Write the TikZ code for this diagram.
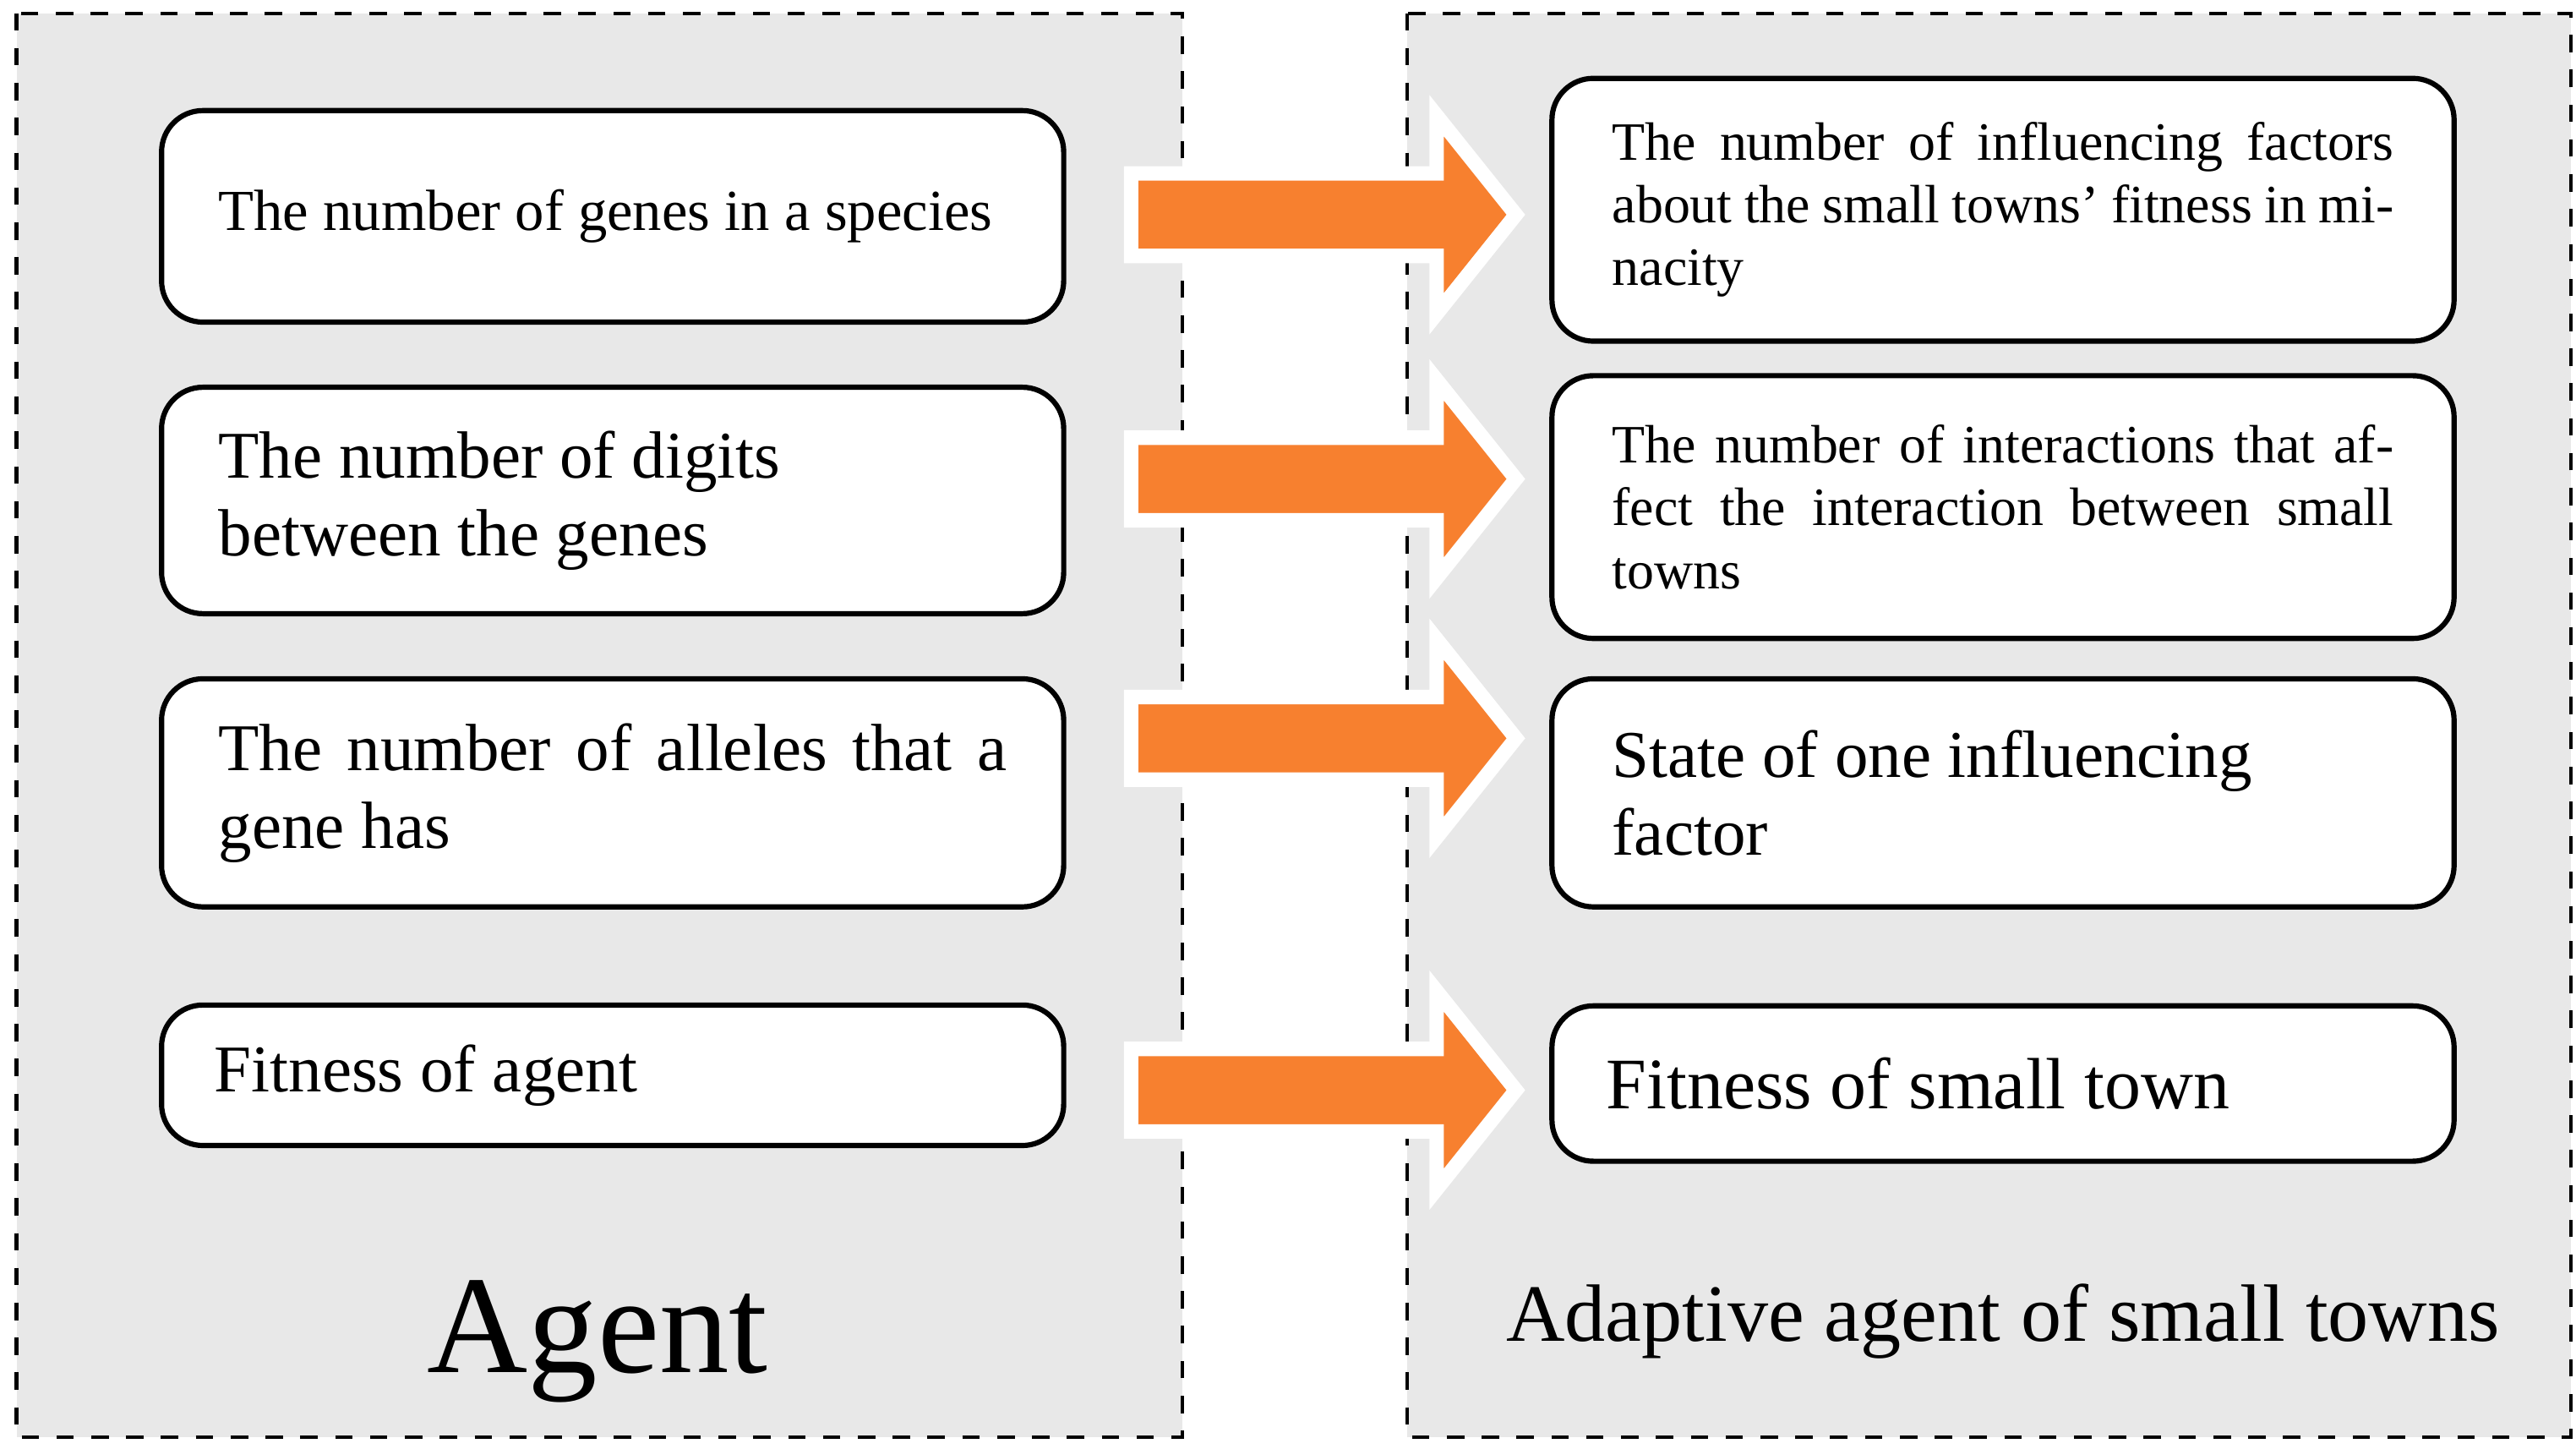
\documentclass[tikz,border=0pt]{standalone}
\usepackage{fontspec}
\setmainfont{Liberation Serif}
\definecolor{panel}{gray}{0.91}
\definecolor{arr}{HTML}{F7802F}
\begin{document}
\begin{tikzpicture}[x=0.01cm,y=-0.01cm,
 panel/.style={draw,dashed,fill=panel,line width=0.6pt},
 box/.style={draw,fill=white,rounded corners=0.25cm,line width=0.9pt,minimum width=5.46cm,inner sep=0pt},
 blk/.style={fill=arr,draw=white,line width=2.5pt}]
\useasboundingbox (0,0) rectangle (1560,877);
\draw[panel] (10,8) rectangle (716,870);
\draw[panel] (852,8) rectangle (1557,870);
% left boxes
\node[box,minimum height=1.28cm] (l1) at (371,131) {\parbox{4.77cm}{\fontsize{10}{12}\selectfont The number of genes in a species}};
\node[box,minimum height=1.37cm] (l2) at (371,303) {\parbox{4.77cm}{\fontsize{11.5}{13.4}\selectfont The number of digits\\between the genes}};
\node[box,minimum height=1.38cm] (l3) at (371,480) {\parbox{4.77cm}{\fontsize{11.5}{13.4}\selectfont The number of alleles that a gene has}};
\node[box,minimum height=0.85cm] (l4) at (371,651) {\parbox{4.82cm}{\fontsize{11.5}{13.4}\selectfont Fitness of agent}};
% right boxes
\node[box,minimum height=1.59cm] (r1) at (1213,127) {\parbox{4.73cm}{\fontsize{9.3}{10.8}\selectfont The number of influencing factors about the small towns' fitness in minacity}};
\node[box,minimum height=1.59cm] (r2) at (1213,307) {\parbox{4.73cm}{\fontsize{9.3}{10.8}\selectfont The number of interactions that affect the interaction between small towns}};
\node[box,minimum height=1.38cm] (r3) at (1213,480) {\parbox{4.73cm}{\fontsize{11.5}{13.4}\selectfont State of one influencing\\factor}};
\node[box,minimum height=0.94cm] (r4) at (1213,656) {\parbox{4.8cm}{\fontsize{12.5}{14}\selectfont Fitness of small town}};
% arrows
\foreach \y/\n in {130/a1,290/a2,447/a3,660/a4}{
 \coordinate (\n) at (685,\y);
 \draw[blk] (\n) ++(0,-25) -- ++(185,0) -- ++(0,-35) -- ++(48,60) -- ++(-48,60) -- ++(0,-35) -- ++(-185,0) -- cycle;
}
\node (agent) at (362,812) {\fontsize{24}{28}\selectfont Agent};
\node (adap) at (1213,800) {\fontsize{14}{16}\selectfont Adaptive agent of small towns};
\end{tikzpicture}
\end{document}
